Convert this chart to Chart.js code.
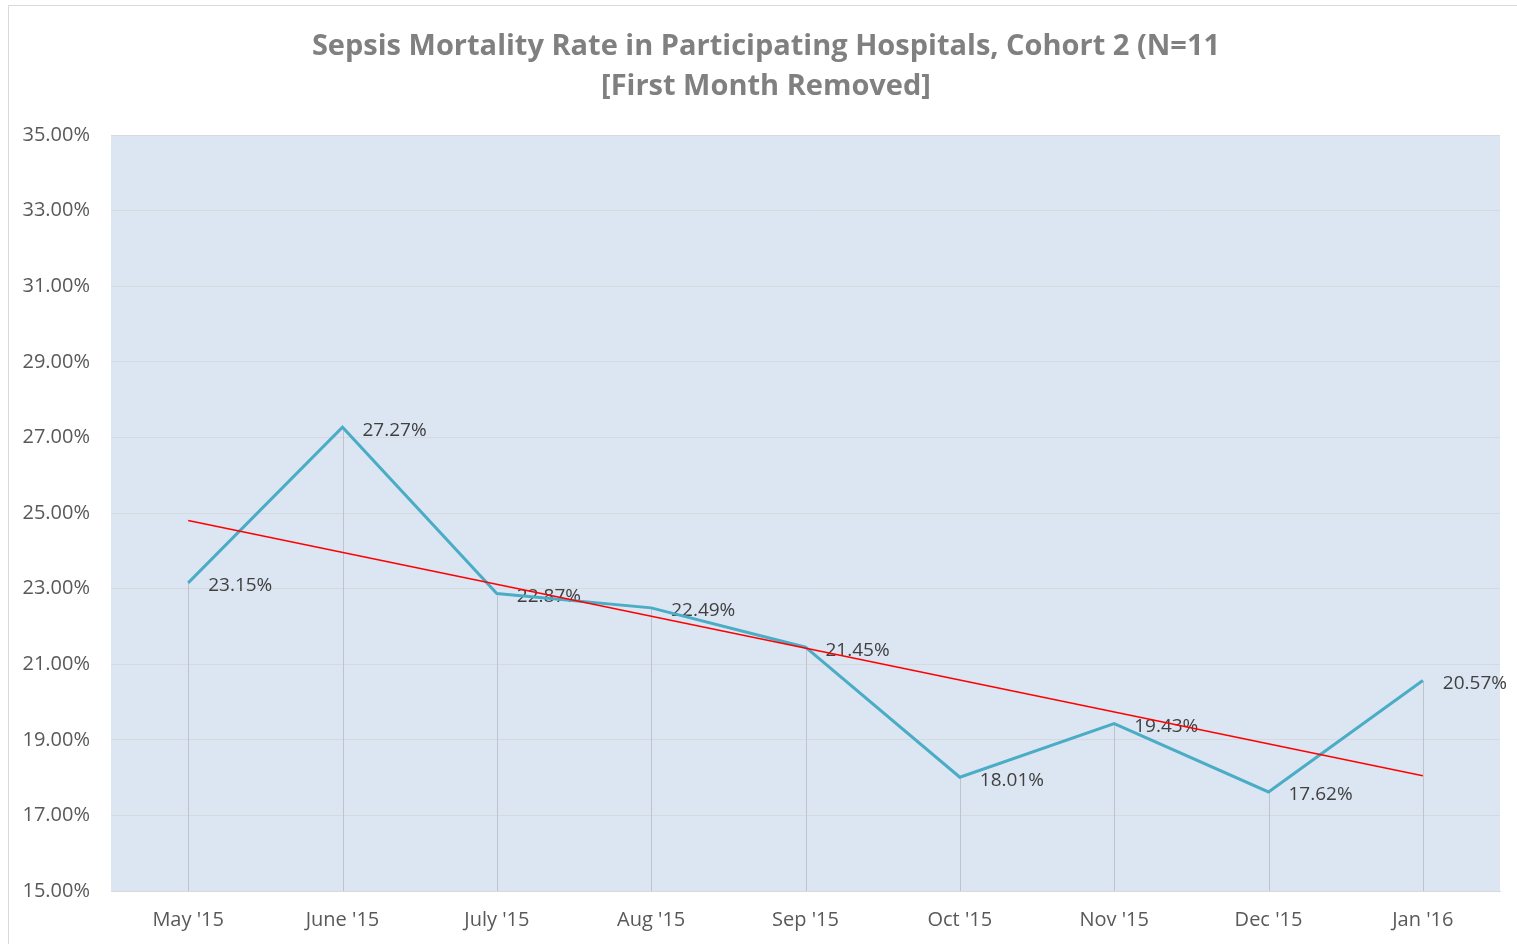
<!DOCTYPE html>
<html>
<head>
    <title>Sepsis Mortality Rate</title>
    <script src="https://cdn.jsdelivr.net/npm/chart.js"></script>
    <style>
        body { margin: 0; background: #fff; }
        #wrap { position: relative; width: 1517px; height: 944px; }
        #frame {
            position: absolute; left: 8px; top: 5px; width: 1520px; height: 960px;
            border-left: 1px solid #d9d9d9; border-top: 1px solid #d9d9d9;
            pointer-events: none;
        }
    </style>
</head>
<body>
<div id="wrap">
    <canvas id="sepsisChart" width="1517" height="944"></canvas>
    <div id="frame"></div>
</div>
<script>
    // values
    var months = ["May '15", "June '15", "July '15", "Aug '15", "Sep '15", "Oct '15", "Nov '15", "Dec '15", "Jan '16"];
    var mortality = [23.15, 27.27, 22.87, 22.49, 21.45, 18.01, 19.43, 17.62, 20.57];
    var trendEnds = [24.80, 18.05]; // red trend line, first and last month
    var titleLines = ['Sepsis Mortality Rate in Participating Hospitals, Cohort 2 (N=11', '[First Month Removed]'];

    var trend = months.map(function(m, i) {
        if (i === 0) return trendEnds[0];
        if (i === months.length - 1) return trendEnds[1];
        return null;
    });

    var ctx = document.getElementById('sepsisChart').getContext('2d');

    var chart = new Chart(ctx, {
        type: 'line',
        data: {
            labels: months,
            datasets: [
                {
                    label: 'Mortality',
                    data: mortality,
                    borderColor: '#4bacc6',
                    borderWidth: 3,
                    pointRadius: 0,
                    tension: 0,
                    order: 2
                },
                {
                    label: 'Trend',
                    data: trend,
                    borderColor: '#ff0000',
                    borderWidth: 1.5,
                    pointRadius: 0,
                    spanGaps: true,
                    order: 1
                }
            ]
        },
        options: {
            responsive: false,
            animation: false,
            layout: { padding: { top: 135, right: 17, left: 0, bottom: 0 } },
            scales: {
                x: {
                    offset: true,
                    grid: { display: false, drawTicks: false },
                    border: { color: '#d9d9d9', width: 1 },
                    ticks: {
                        padding: 17,
                        color: '#595959',
                        font: { family: 'Open Sans', size: 20 }
                    },
                    afterFit: function(scale) { scale.height = 53; }
                },
                y: {
                    min: 15,
                    max: 35,
                    grid: { color: '#d6d9dd', drawTicks: false },
                    border: { display: false },
                    ticks: {
                        stepSize: 2,
                        padding: 21,
                        color: '#595959',
                        font: { family: 'Open Sans', size: 20 },
                        callback: function(v) { return v.toFixed(2) + '%'; }
                    },
                    afterFit: function(scale) { scale.width = 111; }
                }
            },
            plugins: {
                legend: { display: false },
                tooltip: { enabled: false }
            }
        },
        plugins: [{
            id: 'plotBg',
            beforeDraw: function(chart) {
                var a = chart.chartArea;
                var c = chart.ctx;
                c.save();
                c.fillStyle = '#dce6f2';
                c.fillRect(a.left, a.top, a.right - a.left, a.bottom - a.top);
                c.restore();
            }
        }, {
            id: 'dropLinesAndLabels',
            beforeDatasetsDraw: function(chart) {
                var c = chart.ctx;
                var bottom = chart.chartArea.bottom;
                var meta = chart.getDatasetMeta(0);
                c.save();
                c.strokeStyle = '#c0c4ca';
                c.lineWidth = 1;
                meta.data.forEach(function(pt) {
                    c.beginPath();
                    c.moveTo(Math.round(pt.x) + 0.5, pt.y);
                    c.lineTo(Math.round(pt.x) + 0.5, bottom);
                    c.stroke();
                });
                // value labels sit under the lines, like the original
                c.font = '19px "Open Sans"';
                c.fillStyle = '#404040';
                c.textAlign = 'left';
                c.textBaseline = 'middle';
                meta.data.forEach(function(pt, i) {
                    c.fillText(mortality[i].toFixed(2) + '%', pt.x + 20, pt.y + 3);
                });
                c.restore();
            }
        }, {
            id: 'titleText',
            afterDraw: function(chart) {
                var c = chart.ctx;
                c.save();
                c.font = 'bold 29px "Open Sans"';
                c.fillStyle = '#808080';
                c.textAlign = 'center';
                c.textBaseline = 'middle';
                c.fillText(titleLines[0], 766, 47);
                c.fillText(titleLines[1], 766, 87);
                c.restore();
            }
        }]
    });
</script>
</body>
</html>
